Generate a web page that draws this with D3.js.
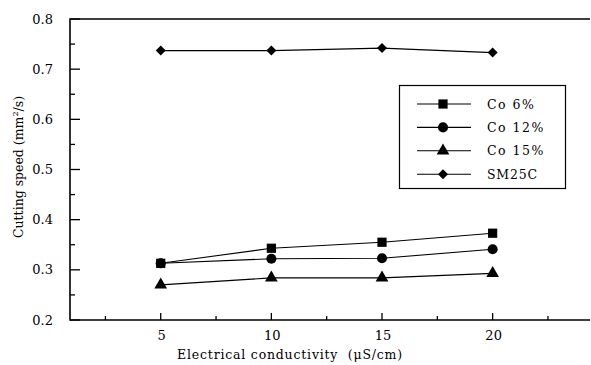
<!DOCTYPE html>
<html lang="en">
<head>
    <meta charset="UTF-8">
    <script src="https://d3js.org/d3.v7.min.js"></script>
    <title>Cutting speed</title>
    <style>
        body { margin: 0; background: #fff; }
        text { font-family: "DejaVu Serif", "Liberation Serif", serif; fill: #000; }
    </style>
</head>
<body>
    <div id="chart"></div>
    <script>
        // data
        const conductivity = [5, 10, 15, 20];
        const co6 = [0.313, 0.343, 0.355, 0.373];
        const co12 = [0.313, 0.322, 0.323, 0.341];
        const co15 = [0.270, 0.284, 0.284, 0.293];
        const sm25c = [0.737, 0.737, 0.742, 0.733];
        const seriesNames = ["Co 6%", "Co 12%", "Co 15%", "SM25C"];
        const yTicks = [0.2, 0.3, 0.4, 0.5, 0.6, 0.7, 0.8];
        const xTicks = [5, 10, 15, 20];

        const series = [
            { name: seriesNames[0], values: co6, symbol: d3.symbolSquare, size: 85, rot: 0 },
            { name: seriesNames[1], values: co12, symbol: d3.symbolCircle, size: 80, rot: 0 },
            { name: seriesNames[2], values: co15, symbol: d3.symbolTriangle, size: 70, rot: 0 },
            { name: seriesNames[3], values: sm25c, symbol: d3.symbolSquare, size: 50, rot: 45 }
        ];

        const W = 591, H = 365;
        const svg = d3.select("#chart").append("svg")
            .attr("width", W).attr("height", H);

        const x = d3.scaleLinear().domain([0.9, 24.4]).range([70, 590]);
        const y = d3.scaleLinear().domain([0.2, 0.8]).range([320, 19]);

        // minor ticks
        const xMinor = [2.5, 7.5, 12.5, 17.5, 22.5];
        const yMinor = [0.25, 0.35, 0.45, 0.55, 0.65, 0.75];

        const g = svg.append("g");

        // x axis with inward ticks
        g.selectAll(".xmaj").data(xTicks).join("line")
            .attr("class", "xmaj")
            .attr("x1", d => x(d)).attr("x2", d => x(d))
            .attr("y1", 320).attr("y2", 313)
            .attr("stroke", "#000").attr("stroke-width", 1.3);
        g.selectAll(".xmin").data(xMinor).join("line")
            .attr("class", "xmin")
            .attr("x1", d => x(d)).attr("x2", d => x(d))
            .attr("y1", 320).attr("y2", 316)
            .attr("stroke", "#000").attr("stroke-width", 1.3);
        g.selectAll(".xlab").data(xTicks).join("text")
            .attr("class", "xlab")
            .attr("x", d => x(d) + 1).attr("y", 340)
            .attr("text-anchor", "middle")
            .attr("font-size", 13)
            .text(d => d);

        // y axis with inward ticks
        g.selectAll(".ymaj").data(yTicks).join("line")
            .attr("class", "ymaj")
            .attr("x1", 70).attr("x2", 80)
            .attr("y1", d => y(d)).attr("y2", d => y(d))
            .attr("stroke", "#000").attr("stroke-width", 1.3);
        g.selectAll(".ymin").data(yMinor).join("line")
            .attr("class", "ymin")
            .attr("x1", 70).attr("x2", 75)
            .attr("y1", d => y(d)).attr("y2", d => y(d))
            .attr("stroke", "#000").attr("stroke-width", 1.3);
        g.selectAll(".ylab").data(yTicks).join("text")
            .attr("class", "ylab")
            .attr("x", 53).attr("y", d => y(d) + 4.5)
            .attr("text-anchor", "end")
            .attr("font-size", 13)
            .text(d => d.toFixed(1));

        // frame: left, bottom, top
        g.append("path")
            .attr("d", `M590,${y(0.8)}H70V${y(0.2)}H590`)
            .attr("fill", "none").attr("stroke", "#000").attr("stroke-width", 1.6);

        // lines and markers
        const line = d3.line()
            .x((d, i) => x(conductivity[i]))
            .y(d => y(d));

        series.forEach(s => {
            g.append("path")
                .datum(s.values)
                .attr("d", line)
                .attr("fill", "none").attr("stroke", "#000").attr("stroke-width", 1.1);
            g.selectAll(null).data(s.values).join("path")
                .attr("transform", (d, i) => `translate(${x(conductivity[i])},${y(d)}) rotate(${s.rot})`)
                .attr("d", d3.symbol().type(s.symbol).size(s.size))
                .attr("fill", "#000");
        });

        // legend
        const legend = svg.append("g");
        legend.append("rect")
            .attr("x", 399.5).attr("y", 85.5).attr("width", 166).attr("height", 103)
            .attr("fill", "#fff").attr("stroke", "#000").attr("stroke-width", 1.2);
        const rows = legend.selectAll("g").data(series).join("g")
            .attr("transform", (d, i) => `translate(0,${104 + i * 23.4})`);
        rows.append("line")
            .attr("x1", 417).attr("x2", 471)
            .attr("stroke", "#000").attr("stroke-width", 1.1);
        rows.append("path")
            .attr("transform", d => `translate(443,0) rotate(${d.rot})`)
            .attr("d", d => d3.symbol().type(d.symbol).size(d.size)())
            .attr("fill", "#000");
        rows.append("text")
            .attr("x", 487).attr("y", 4.5)
            .attr("font-size", 12.5)
            .attr("letter-spacing", d => d.name.startsWith("Co") ? 1.5 : 0.8)
            .text(d => d.name);

        // axis titles
        svg.append("text")
            .attr("x", 290).attr("y", 359)
            .attr("text-anchor", "middle")
            .attr("font-size", 12.5)
            .attr("letter-spacing", 0.8)
            .text("Electrical conductivity \u00a0(\u03bcS/cm)");

        const yt = svg.append("text")
            .attr("transform", "translate(23,167) rotate(-90)")
            .attr("text-anchor", "middle")
            .attr("font-size", 12.5);
        yt.append("tspan").text("Cutting speed (mm");
        yt.append("tspan").attr("font-size", 8).attr("dy", -5).text("2");
        yt.append("tspan").attr("dy", 5).text("/s)");
    </script>
</body>
</html>
